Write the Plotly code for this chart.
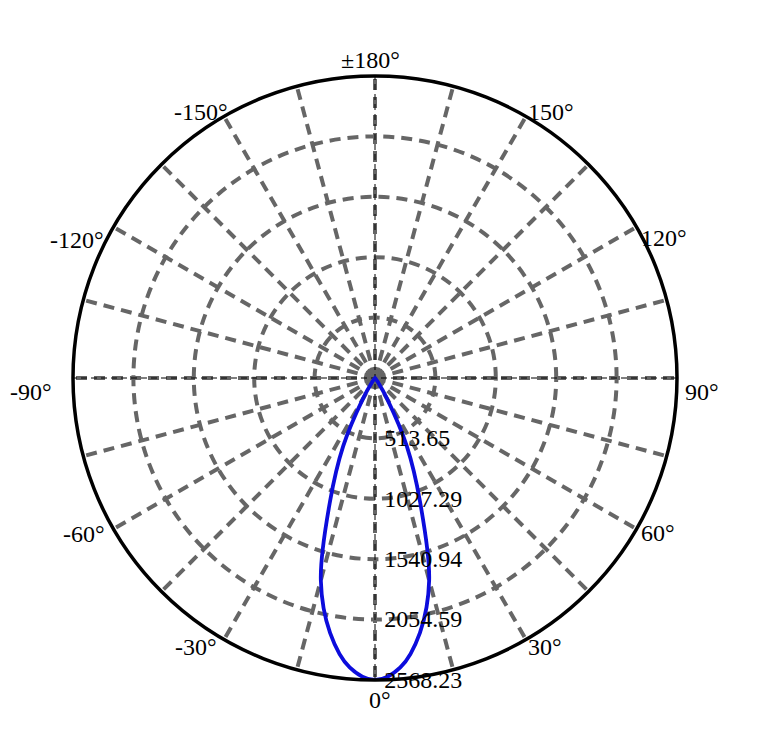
import math
import plotly.graph_objects as go

# intensity (cd) vs polar angle (symmetric beam)
half_angles = [0, 5, 10, 15, 20, 25, 30, 35, 40, 45, 50, 60, 70, 80, 90, 120, 150, 180]
half_values = [2568.23, 2470, 2200, 1780, 1120, 640, 210, 40, 5, 0, 0, 0, 0, 0, 0, 0, 0, 0]

radial_ticks = [513.65, 1027.29, 1540.94, 2054.59, 2568.23]
radial_labels = ["513.65", "1027.29", "1540.94", "2054.59", "2568.23"]

grid_angles = list(range(0, 360, 15))
label_angles = [0, 30, 60, 90, 120, 150, 180, 210, 240, 270, 300, 330]
label_texts = ["0°", "30°", "60°", "90°", "120°", "150°", "±180°",
               "-150°", "-120°", "-90°", "-60°", "-30°"]
# pixel offset of each label centre from the end of its grid line
label_offsets = [(5, 20), (19, 7), (21, 4), (25, 14), (27, 11), (25, -4), (-5, -16),
                 (-23, -4), (-36, 13), (-42, 14), (-29, 5), (-28, 7)]

# mirror the half curve to get the full 360 degree curve
theta = half_angles + [360 - a for a in reversed(half_angles[:-1])]
r = half_values + list(reversed(half_values[:-1]))

rmax = radial_ticks[-1]
font = dict(family="Liberation Serif", size=24, color="black")

fig = go.Figure()

# thin black cross lines through the centre
fig.add_trace(go.Scatterpolar(r=[rmax, 0, rmax], theta=[0, 0, 180], mode="lines",
                              line=dict(color="black", width=1, dash="6px,4px"),
                              hoverinfo="skip", showlegend=False))
fig.add_trace(go.Scatterpolar(r=[rmax, 0, rmax], theta=[90, 90, 270], mode="lines",
                              line=dict(color="black", width=1, dash="6px,4px"),
                              hoverinfo="skip", showlegend=False))

fig.add_trace(go.Scatterpolar(r=r, theta=theta, mode="lines",
                              line=dict(color="#0c0cdc", width=3.8, shape="spline"),
                              showlegend=False))

# angle labels placed just outside the outer circle
annotations = []
for ang, txt, (dx, dy) in zip(label_angles, label_texts, label_offsets):
    phi = math.radians(270 + ang)
    annotations.append(dict(
        x=0.5 + 0.5 * math.cos(phi), y=0.5 + 0.5 * math.sin(phi),
        xref="paper", yref="paper", text=txt, showarrow=False,
        xanchor="center", yanchor="middle", xshift=dx, yshift=-dy, font=font,
    ))

fig.update_layout(
    width=763, height=729,
    margin=dict(l=65, r=94, t=68, b=57),
    paper_bgcolor="white",
    font=font,
    annotations=annotations,
    polar=dict(
        bgcolor="white",
        domain=dict(x=[0, 1], y=[0, 1]),
        angularaxis=dict(
            rotation=270, direction="counterclockwise",
            tickmode="array", tickvals=grid_angles, showticklabels=False,
            showline=True, linecolor="black", linewidth=3.5,
            gridcolor="#666666", gridwidth=3.5, griddash="11px,7px",
            ticks="",
        ),
        radialaxis=dict(
            range=[0, rmax], angle=-90, tickangle=-90, side="counterclockwise",
            tickmode="array", tickvals=radial_ticks, ticktext=radial_labels,
            showline=False, ticks="outside", ticklen=4, tickcolor="rgba(0,0,0,0)",
            gridcolor="#666666", gridwidth=3.5, griddash="11px,7px",
            tickfont=font,
        ),
    ),
)

fig.write_html("out.html")
